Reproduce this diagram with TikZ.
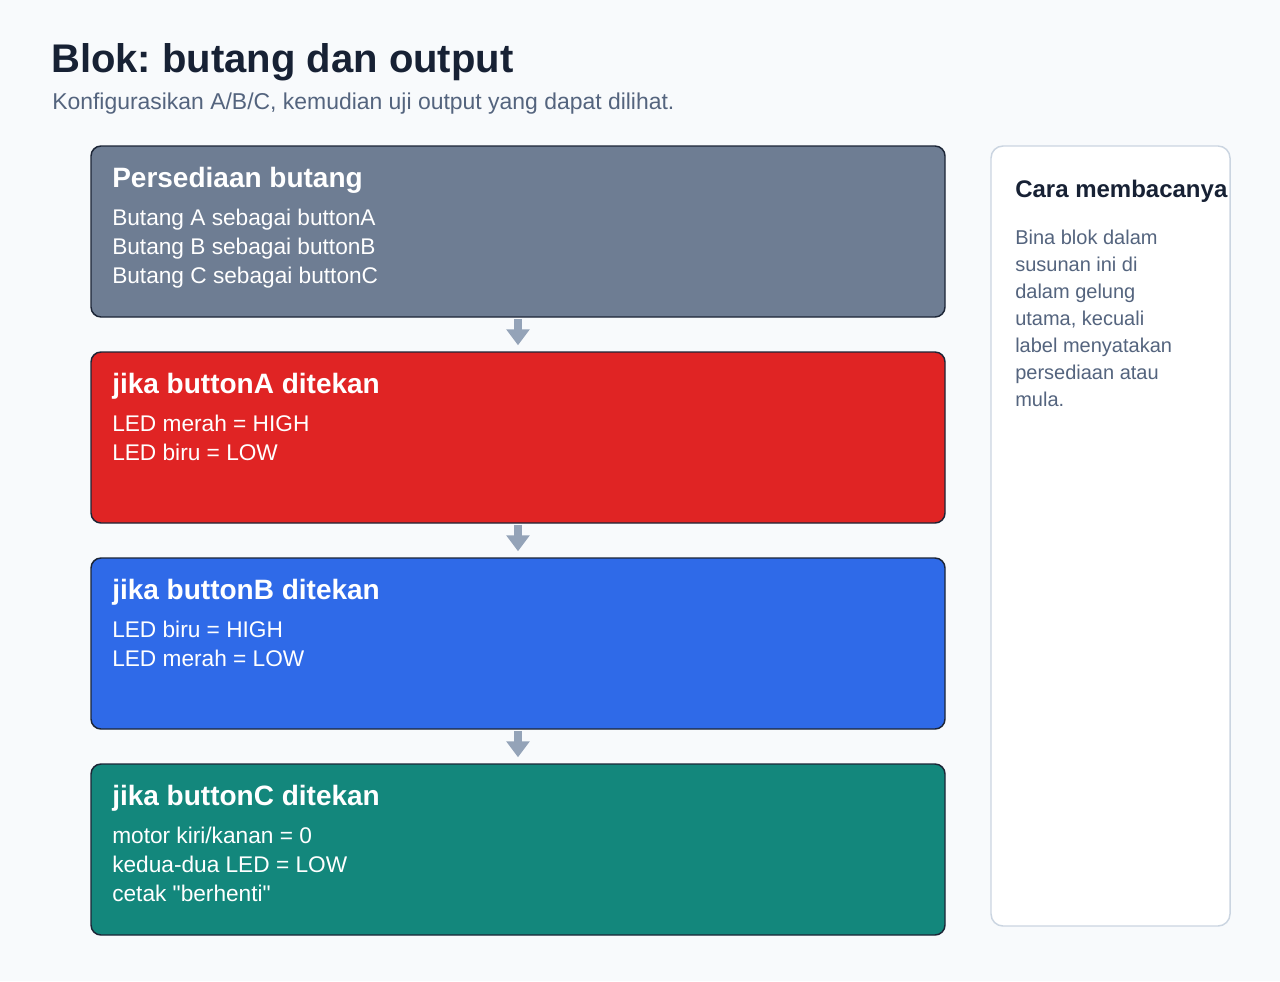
\documentclass[tikz,border=0pt]{standalone}
\usepackage{fontspec}
\setmainfont{Liberation Sans}
\frenchspacing
\usetikzlibrary{arrows.meta}

\definecolor{latar}{RGB}{248,250,252}
\definecolor{tajuk}{RGB}{23,33,52}
\definecolor{subtajuk}{RGB}{84,100,126}
\definecolor{garis}{RGB}{28,37,54}
\definecolor{blokkelabu}{RGB}{110,125,147}
\definecolor{blokmerah}{RGB}{224,36,36}
\definecolor{blokbiru}{RGB}{47,106,232}
\definecolor{blokhijau}{RGB}{19,135,124}
\definecolor{anakpanah}{RGB}{148,163,184}
\definecolor{sempadan}{RGB}{203,213,225}

\tikzset{
  blok/.style={draw=garis, line width=1.1pt, rounded corners=7.5pt, minimum width=640.5pt, minimum height=128.25pt, inner sep=0pt},
  kepala/.style={anchor=base west, inner sep=0pt, text=white, font=\fontsize{21}{25}\selectfont\bfseries},
  isi/.style={anchor=base west, inner sep=0pt, text=white, font=\fontsize{17}{20}\selectfont},
  panah/.style={draw=anakpanah, line width=5.5pt, shorten <=0.8pt, shorten >=4.5pt, -{Triangle[length=12pt,width=17pt]}},
}

\begin{document}
\begin{tikzpicture}[x=0.75pt,y=0.75pt,yscale=-1,xscale=1]
%set diagram left start at 0, and has height of 981
\useasboundingbox [fill=latar] (0,0) rectangle (1280,981);

% Text Node: title
\node [anchor=base west, inner sep=0pt, text=tajuk, font=\fontsize{30}{36}\selectfont\bfseries] (tajuk) at (51,73) {Blok: butang dan output};
% Text Node: subtitle
\node [anchor=base west, inner sep=0pt, text=subtajuk, font=\fontsize{17.2}{20}\selectfont] (subtajuk) at (52,109) {Konfigurasikan A/B/C, kemudian uji output yang dapat dilihat.};

%%% BLOCKS %%%
%Shape: setup
\node [blok, fill=blokkelabu] (persediaan) at (518,231.5) {};
%Shape: button A
\node [blok, fill=blokmerah] (butangA) at (518,437.5) {};
%Shape: button B
\node [blok, fill=blokbiru] (butangB) at (518,643.5) {};
%Shape: button C
\node [blok, fill=blokhijau] (butangC) at (518,849.5) {};

% Text Node
\node [kepala] (kepalaP) at (112,187) {Persediaan butang};
\foreach \baris [count=\i] in {Butang A sebagai buttonA, Butang B sebagai buttonB, Butang C sebagai buttonC}
  \node [isi] (isiP\i) at (112,{225+29*(\i-1)}) {\baris};

% Text Node
\node [kepala] (kepalaA) at (112,393) {jika buttonA ditekan};
\foreach \baris [count=\i] in {LED merah = HIGH, LED biru = LOW}
  \node [isi] (isiA\i) at (112,{431+29*(\i-1)}) {\baris};

% Text Node
\node [kepala] (kepalaB) at (112,599) {jika buttonB ditekan};
\foreach \baris [count=\i] in {LED biru = HIGH, LED merah = LOW}
  \node [isi] (isiB\i) at (112,{637+29*(\i-1)}) {\baris};

% Text Node
\node [kepala] (kepalaC) at (112,805) {jika buttonC ditekan};
\foreach \baris [count=\i] in {motor kiri/kanan = 0, kedua-dua LED = LOW, cetak \textquotedbl berhenti\textquotedbl}
  \node [isi] (isiC\i) at (112,{843+29*(\i-1)}) {\baris};

%Arrows between blocks
\draw [panah] (persediaan.south) -- (butangA.north);
\draw [panah] (butangA.south) -- (butangB.north);
\draw [panah] (butangB.south) -- (butangC.north);

%%% SIDE PANEL %%%
%Shape: panel
\node [draw=sempadan, fill=white, line width=1.1pt, rounded corners=9pt, minimum width=179.25pt, minimum height=585pt, inner sep=0pt] (panel) at (1110.5,536) {};
% Text Node
\node [anchor=base west, inner sep=0pt, text=tajuk, font=\fontsize{18}{22}\selectfont\bfseries] (panelkepala) at (1015,197) {Cara membacanya};
\foreach \baris [count=\i] in {Bina blok dalam, susunan ini di, dalam gelung, {utama, kecuali}, label menyatakan, persediaan atau, mula.}
  \node [anchor=base west, inner sep=0pt, text=subtajuk, font=\fontsize{15}{18}\selectfont] (panelisi\i) at (1015,{244+27*(\i-1)}) {\baris};

\end{tikzpicture}
\end{document}
